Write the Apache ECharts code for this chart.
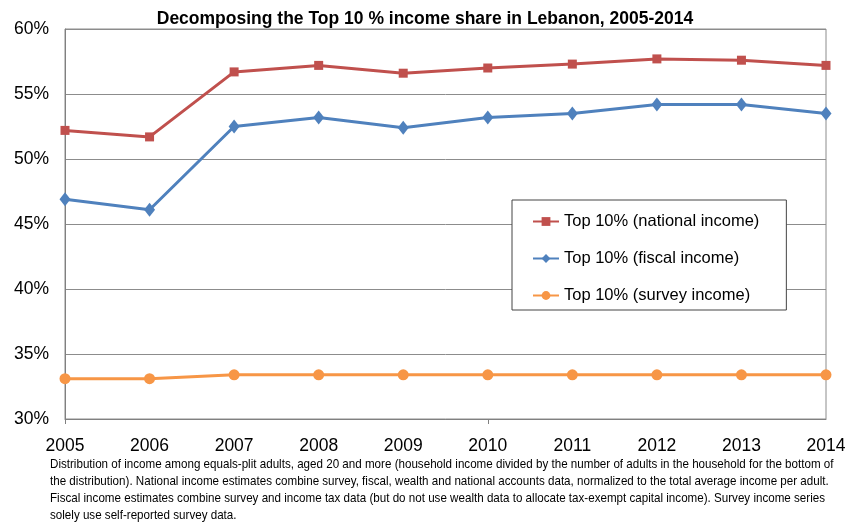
<!DOCTYPE html>
<html>
<head>
<meta charset="utf-8">
<script src="https://cdn.jsdelivr.net/npm/echarts@6/dist/echarts.min.js"></script>
<style>
  html, body { margin: 0; padding: 0; background: #fff; }
  #chart { width: 851px; height: 527px; }
</style>
</head>
<body>
<div id="chart"></div>
<script>
// years on the x axis
const years = ['2005', '2006', '2007', '2008', '2009', '2010', '2011', '2012', '2013', '2014']
// top 10% shares, in percent
const nationalIncome = [52.2, 51.7, 56.7, 57.2, 56.6, 57.0, 57.3, 57.7, 57.6, 57.2]
const fiscalIncome = [46.9, 46.1, 52.5, 53.2, 52.4, 53.2, 53.5, 54.2, 54.2, 53.5]
const surveyIncome = [33.1, 33.1, 33.4, 33.4, 33.4, 33.4, 33.4, 33.4, 33.4, 33.4]

const footnote = [
  'Distribution of income among equals-plit adults, aged 20 and more (household income divided by the number of adults in the household for the bottom of',
  'the distribution). National income estimates combine survey, fiscal, wealth and national accounts data, normalized to the total average income per adult.',
  'Fiscal income estimates combine survey and income tax data (but do not use wealth data to allocate tax-exempt capital income). Survey income series',
  'solely use self-reported survey data.'
]

const chart = echarts.init(document.getElementById('chart'))

const font = 'Liberation Sans, Arial, sans-serif'

chart.setOption({
  backgroundColor: '#fff',
  animation: false,
  title: {
    text: 'Decomposing the Top 10 % income share in Lebanon, 2005-2014',
    left: 420,
    textAlign: 'center',
    top: 5,
    textStyle: {
      fontFamily: font,
      fontSize: 17.5,
      fontWeight: 'bold',
      color: '#000'
    }
  },
  grid: {
    left: 65,
    right: 25,
    top: 29,
    bottom: 108,
    show: true,
    borderColor: '#8c8c8c',
    borderWidth: 1
  },
  legend: {
    orient: 'vertical',
    left: 512,
    top: 200,
    padding: [13, 27, 6, 20],
    itemGap: 20,
    itemWidth: 26,
    itemHeight: 11,
    backgroundColor: '#fff',
    borderColor: '#444',
    borderWidth: 1,
    textStyle: {
      fontFamily: font,
      fontSize: 16.5,
      color: '#000'
    },
    data: ['Top 10% (national income)', 'Top 10% (fiscal income)', 'Top 10% (survey income)']
  },
  xAxis: {
    type: 'category',
    boundaryGap: false,
    data: years,
    axisLine: { lineStyle: { color: '#808080' } },
    axisTick: { show: true, interval: 4, length: 5, lineStyle: { color: '#808080' } },
    axisLabel: {
      fontFamily: font,
      fontSize: 17.5,
      color: '#000',
      margin: 18
    },
    splitLine: { show: false }
  },
  yAxis: {
    type: 'value',
    min: 30,
    max: 60,
    interval: 5,
    axisLine: { show: true, lineStyle: { color: '#808080' } },
    axisTick: { show: false },
    axisLabel: {
      fontFamily: font,
      fontSize: 17.5,
      color: '#000',
      margin: 16,
      padding: [8, 0, 0, 0],
      formatter: '{value}%'
    },
    splitLine: { lineStyle: { color: '#8c8c8c', width: 1 } }
  },
  series: [{
    name: 'Top 10% (national income)',
    type: 'line',
    data: nationalIncome,
    symbol: 'rect',
    symbolSize: 9,
    lineStyle: { color: '#c0504d', width: 3 },
    itemStyle: { color: '#c0504d' }
  }, {
    name: 'Top 10% (fiscal income)',
    type: 'line',
    data: fiscalIncome,
    symbol: 'diamond',
    symbolSize: [11, 14],
    lineStyle: { color: '#4f81bd', width: 3 },
    itemStyle: { color: '#4f81bd' }
  }, {
    name: 'Top 10% (survey income)',
    type: 'line',
    data: surveyIncome,
    symbol: 'circle',
    symbolSize: 11,
    lineStyle: { color: '#f79646', width: 3 },
    itemStyle: { color: '#f79646' }
  }],
  // footnote set in a condensed width, like the narrow font of the original
  graphic: footnote.map((line, i) => ({
    type: 'text',
    x: 50,
    y: 464 + i * 17,
    scaleX: 0.86,
    style: {
      text: line,
      fontFamily: font,
      fontSize: 13.5,
      fill: '#000',
      textVerticalAlign: 'middle'
    }
  }))
})
</script>
</body>
</html>
